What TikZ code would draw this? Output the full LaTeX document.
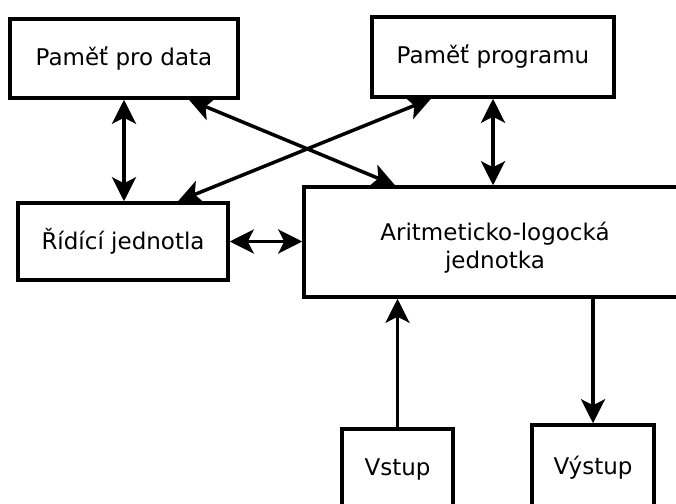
\documentclass[tikz,border=0pt]{standalone}
\usepackage{fontspec}
\setmainfont{DejaVu Sans}
\usetikzlibrary{arrows.meta,calc}
\begin{document}
\begin{tikzpicture}[x=1pt,y=-1pt,
  box/.style={draw=black,line width=3.5pt,rectangle,inner sep=0pt,align=center,
    font=\fontsize{23}{28}\selectfont,text=black},
  tip/.tip={Stealth[length=24pt,width=24pt,inset=6pt]},
  conn/.style={line width=3.5pt,black,arrows={-tip}},
  biconn/.style={line width=3.5pt,black,arrows={tip-tip}}]
\useasboundingbox (0,0) rectangle (676,503);
\fill[white] (0,0) rectangle (676,503);
\node[box,minimum width=228pt,minimum height=79pt] (pd) at (124,58.5) {Paměť pro data};
\node[box,minimum width=242pt,minimum height=80pt] (pp) at (493,57) {Paměť programu};
\node[box,minimum width=210pt,minimum height=77pt] (rj) at (123,241.5) {Řídící jednotla};
\node[box,minimum width=382pt,minimum height=110pt] (alu) at (495,242) {\rule{0pt}{30pt}Aritmeticko-logocká\\jednotka};
\node[box,minimum width=111pt,minimum height=81pt] (vs) at (397.5,469.5) {Vstup};
\node[box,minimum width=122pt,minimum height=85pt] (vy) at (593,467.5) {Výstup};
\draw[biconn] (pd.south) -- (pd.south |- rj.north);
\draw[biconn] (pp.south) -- (pp.south |- alu.north);
\draw[biconn] ([xshift=65pt]pd.south) -- ([xshift=-100pt]alu.north);
\draw[biconn] ([xshift=-62pt]pp.south) -- ([xshift=55pt]rj.north);
\draw[biconn] (rj.east) -- (rj.east -| alu.west);
\draw[conn] (vs.north) -- (vs.north |- alu.south);
\draw[conn] (vy.north |- alu.south) -- (vy.north);
\end{tikzpicture}
\end{document}
